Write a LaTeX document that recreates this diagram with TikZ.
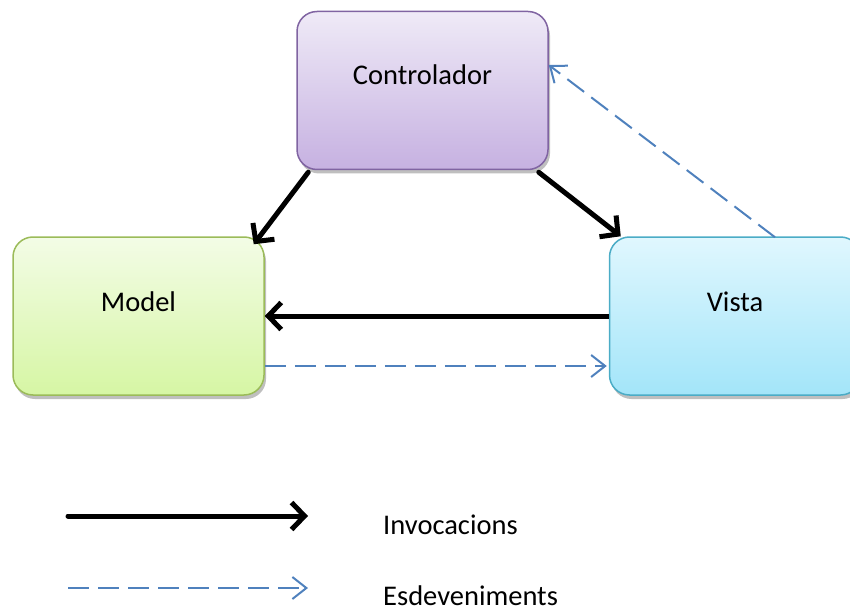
\documentclass[tikz,border=0pt]{standalone}
\usepackage{fontspec}
\setmainfont{Carlito}
\usepackage{tikz}
\usetikzlibrary{arrows.meta,
                calc,
                positioning,
                shadows}

\definecolor{ctrltop}{HTML}{EFEAF7}
\definecolor{ctrlbot}{HTML}{C6B1E1}
\definecolor{ctrlline}{HTML}{8064A2}
\definecolor{modtop}{HTML}{F3FCE6}
\definecolor{modbot}{HTML}{D6F6A4}
\definecolor{modline}{HTML}{9BBB59}
\definecolor{vistop}{HTML}{E0F7FE}
\definecolor{visbot}{HTML}{A3E5F9}
\definecolor{visline}{HTML}{4BACC6}
\definecolor{evblue}{HTML}{4F81BD}

\tikzset{
  box/.style={draw, line width=1.5pt, rounded corners=20pt,
              minimum width=251pt, minimum height=158pt,
              drop shadow={shadow xshift=2pt, shadow yshift=-4pt,
                           opacity=0.25, fill=black}},
  txt/.style={font=\fontsize{28.5}{34}\selectfont, inner sep=0pt},
  invoc/.style={line width=5pt, line cap=round,
                -{Straight Barb[length=13pt,width=27pt]}},
  event/.style={evblue, line width=2pt, dash pattern=on 21pt off 9pt,
                -{Straight Barb[length=14pt,width=22pt]}}
}

\begin{document}
\begin{tikzpicture}[x=1pt,y=-1pt]
\useasboundingbox (0,0) rectangle (850,612);

% the three boxes
\node[box, draw=ctrlline, top color=ctrltop, bottom color=ctrlbot] (ctrl) at (422.5,90.5) {};
\node[box, draw=modline, top color=modtop, bottom color=modbot] (model) at (138.5,316) {};
\node[box, draw=visline, top color=vistop, bottom color=visbot] (vista) at (735,316) {};

\node[txt, anchor=base] (ctrltxt) at ($(ctrl.center)+(0,-5.5)$) {Controlador};
\node[txt, anchor=base] (modtxt) at ($(model.center)+(0,-5)$) {Model};
\node[txt, anchor=base] (vistxt) at ($(vista.center)+(0,-5)$) {Vista};

% invocations
\draw[invoc] ($(ctrl.south west)+(12,2)$) -- ($(model.north east)+(-11,8)$);
\draw[invoc] ($(ctrl.south east)+(-10,2)$) -- ($(vista.north west)+(12,0)$);
\draw[invoc, line cap=butt] (vista.west) -- (model.east);

% events
\draw[event] ($(model.east)+(0,50)$) -- ($(vista.west)+(-2,50)$);
\draw[event] ($(vista.north)+(40,1)$) -- ($(ctrl.east)+(0,-25.5)$);

% legend
\coordinate (inva) at (68,516);
\coordinate (invb) at (308,516);
\coordinate (eva) at (68,588);
\coordinate (evb) at (308,588);
\draw[invoc] (inva) -- (invb);
\draw[event] (eva) -- (evb);
\node[txt, anchor=base west] (invtxt) at (383,534) {Invocacions};
\node[txt, anchor=base west] (evtxt) at (383,605) {Esdeveniments};
\end{tikzpicture}
\end{document}
